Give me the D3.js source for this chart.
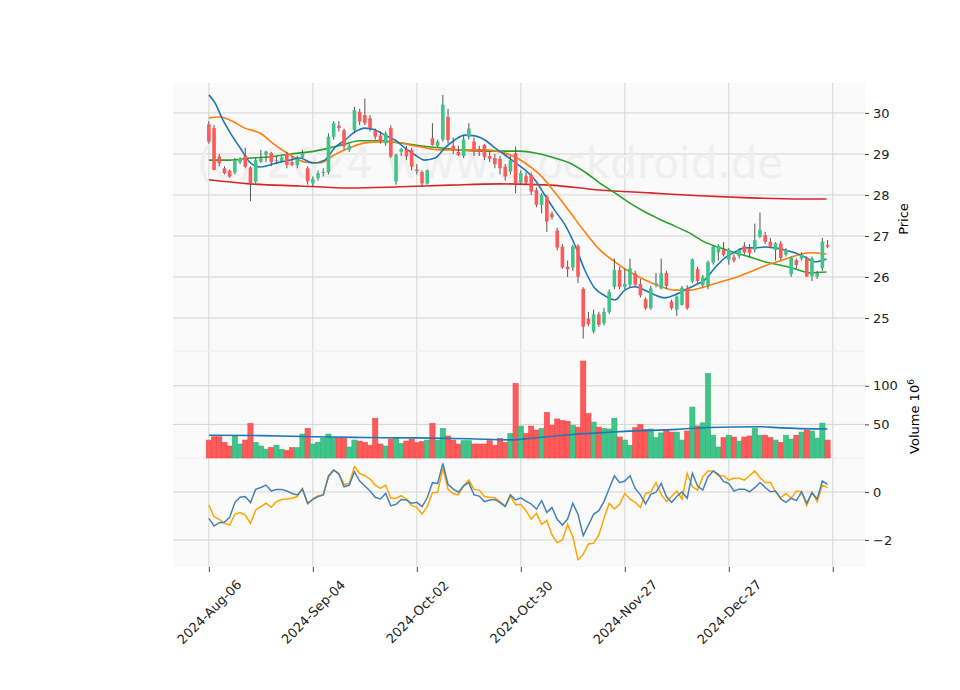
<!DOCTYPE html>
<html>
<head>
<meta charset="utf-8">
<script src="https://cdn.jsdelivr.net/npm/d3@7"></script>
<style>
  body { margin: 0; background: #fff; }
  text { font-family: "DejaVu Sans", sans-serif; }
</style>
</head>
<body>
<svg id="chart" width="960" height="690"></svg>
<script>
// candles: [open, high, low, close]
const ohlc = [
  [29.72,29.80,29.25,29.30],[29.63,29.70,28.60,28.61],[28.94,29.00,28.70,28.77],[28.65,28.70,28.50,28.53],
  [28.59,28.62,28.42,28.45],[28.55,28.90,28.50,28.85],[28.80,28.92,28.75,28.88],[28.96,29.15,28.65,28.69],
  [28.67,28.70,27.85,28.28],[28.32,28.90,28.28,28.85],[28.81,29.10,28.78,28.89],[28.98,29.08,28.80,29.06],
  [29.02,29.05,28.70,28.80],[28.83,28.95,28.75,28.85],[28.83,28.95,28.80,28.91],[29.00,29.05,28.65,28.73],
  [28.80,28.95,28.70,28.73],[28.73,28.95,28.65,28.88],[28.91,29.10,28.88,29.02],[28.65,28.70,28.25,28.33],
  [28.28,28.45,28.20,28.39],[28.41,28.60,28.35,28.53],[28.55,28.65,28.45,28.56],[28.55,29.50,28.50,29.42],
  [29.42,29.80,29.35,29.75],[29.69,29.80,29.55,29.63],[29.58,29.62,29.10,29.18],[29.10,29.25,29.05,29.20],
  [29.58,30.15,29.50,30.07],[30.03,30.10,29.70,29.79],[29.95,30.35,29.70,29.75],[29.87,29.95,29.55,29.63],
  [29.56,29.62,29.35,29.42],[29.45,29.55,29.25,29.30],[29.26,29.55,29.20,29.50],[29.63,29.70,28.90,28.94],
  [28.33,29.00,28.25,28.98],[29.05,29.15,28.95,29.12],[29.12,29.20,28.85,28.94],[29.10,29.15,28.60,28.69],
  [28.62,28.75,28.50,28.58],[28.56,28.60,28.20,28.28],[28.28,28.62,28.25,28.60],[29.38,29.75,29.20,29.22],
  [29.20,29.35,29.15,29.30],[29.35,30.44,29.30,30.20],[29.90,30.10,29.25,29.34],[29.20,29.40,29.00,29.10],
  [29.05,29.20,28.95,28.97],[28.95,29.45,28.90,29.35],[29.42,29.75,29.35,29.62],[29.30,29.40,28.95,29.05],
  [29.10,29.20,28.95,29.05],[29.22,29.25,28.85,28.93],[28.95,29.05,28.80,28.88],[28.90,29.00,28.65,28.75],
  [28.88,28.95,28.50,28.65],[28.69,28.75,28.35,28.45],[28.57,28.95,28.50,28.85],[29.02,29.18,28.04,28.28],
  [28.30,28.60,28.25,28.53],[28.46,28.55,28.25,28.30],[28.49,28.55,28.00,28.08],[28.12,28.18,27.70,27.76],
  [27.76,28.05,27.55,28.00],[27.96,28.00,27.10,27.35],[27.54,27.60,27.40,27.46],[27.13,27.20,26.65,26.72],
  [26.74,26.80,26.20,26.23],[26.25,26.40,26.00,26.19],[26.23,26.78,26.15,26.74],[26.76,26.80,25.85,26.01],
  [25.71,25.75,24.50,24.79],[24.98,25.15,24.80,24.85],[24.67,25.20,24.62,25.09],[25.09,25.15,24.78,24.83],
  [24.87,25.25,24.82,25.15],[25.15,25.70,25.10,25.64],[25.76,26.45,25.70,26.17],[26.17,26.25,25.70,25.76],
  [25.76,26.20,25.70,25.83],[25.81,26.45,25.75,26.21],[26.09,26.15,25.75,25.81],[25.83,25.95,25.50,25.55],
  [25.46,25.50,25.20,25.24],[25.24,25.78,25.20,25.72],[25.80,26.10,25.75,25.85],[25.72,26.45,25.70,26.09],
  [26.10,26.15,25.70,25.78],[25.40,25.45,25.20,25.24],[25.20,25.55,25.05,25.52],[25.32,25.78,25.30,25.74],
  [25.72,25.80,25.20,25.24],[25.89,26.45,25.85,26.43],[26.19,26.25,25.85,25.90],[25.80,26.05,25.75,25.99],
  [25.80,26.40,25.70,26.36],[26.35,26.78,26.30,26.74],[26.60,26.80,26.40,26.76],[26.66,26.85,26.50,26.54],
  [26.42,26.70,26.30,26.66],[26.48,26.55,26.35,26.40],[26.51,26.70,26.45,26.66],[26.76,26.85,26.55,26.60],
  [26.70,26.80,26.50,26.58],[26.66,27.30,26.60,26.90],[26.98,27.57,26.95,27.15],[27.02,27.10,26.80,26.86],
  [26.86,26.95,26.70,26.74],[26.66,26.85,26.40,26.82],[26.82,26.88,26.40,26.46],[26.54,26.70,26.50,26.66],
  [26.07,26.50,26.00,26.48],[26.41,26.45,26.20,26.29],[26.45,26.60,26.40,26.54],[26.46,26.50,26.00,26.01],
  [26.02,26.50,25.90,26.46],[26.01,26.15,25.95,26.09],[26.21,26.95,26.15,26.86],[26.78,26.90,26.70,26.74]
];

// volume in millions
const volume = [
  29.7,34,34,26.7,22,35,24.6,29.7,51.3,26.7,22,18,20,23,17.7,16.4,20,20,37.5,44.8,
  24.6,26.7,32,37.5,32,32,32,20.7,29.7,28.4,26.7,23,57.8,24.6,22,31,32.8,25.4,28.4,31,
  26.3,27.6,29.7,51.3,29.7,44.8,35,29.7,24.6,28.9,28.9,24.6,24.6,24.6,28.9,23,32,26.7,38.4,103,
  47.8,38.4,47.8,42.7,44.8,65.5,49,57,55,54,49,46.5,132,64,53,46.5,44.8,44,58,33.6,
  29.7,23,45.7,50,43.5,44,32.8,39,42.7,40,40,29.7,41.4,72.4,48,52,116,36,20.7,32.8,
  36,33.6,28.4,33.6,35,45,36,36,33,29.7,26.7,36,31,36,40,42.7,41.4,32.3,51.7,29.7
];

// lower panel series
const lineA = [
  -1.10,-1.42,-1.28,-1.26,-1.06,-0.44,-0.22,-0.19,-0.44,0.11,0.19,0.29,0.04,0.11,0.11,0.04,-0.06,-0.12,0.12,-0.47,
  -0.31,-0.19,-0.12,0.64,0.92,0.75,0.22,0.29,0.85,0.46,0.25,0.04,-0.22,-0.29,-0.06,-0.58,-0.51,-0.31,-0.33,-0.47,
  -0.43,-0.61,-0.24,0.39,0.36,1.19,0.32,0.12,-0.01,0.26,0.39,-0.12,-0.17,-0.40,-0.33,-0.31,-0.44,-0.61,-0.12,-0.33,
  -0.24,-0.38,-0.50,-0.71,-0.36,-0.85,-0.65,-1.14,-1.38,-1.13,-0.47,-0.93,-1.82,-1.38,-0.93,-0.78,-0.40,0.15,0.68,0.39,
  0.46,0.68,0.15,-0.12,-0.50,-0.10,-0.01,0.36,-0.19,-0.43,-0.19,0.01,-0.26,0.78,0.25,0.08,0.64,0.88,0.74,0.43,
  0.36,0.04,0.12,0.12,0.01,0.18,0.40,0.19,0.01,0.04,-0.29,-0.43,-0.26,-0.36,0.01,-0.47,-0.03,-0.29,0.46,0.32
];
const lineB = [
  -0.54,-1.03,-1.14,-1.31,-1.38,-0.93,-0.86,-0.96,-1.31,-0.75,-0.61,-0.47,-0.64,-0.40,-0.31,-0.29,-0.26,-0.19,0.15,-0.50,
  -0.29,-0.15,-0.12,0.68,0.92,0.78,0.32,0.36,1.06,0.78,0.68,0.54,0.29,0.15,0.29,-0.26,-0.26,-0.15,-0.29,-0.57,
  -0.64,-0.92,-0.61,-0.03,-0.01,0.99,0.11,-0.06,-0.12,0.26,0.50,0.11,0.08,-0.19,-0.22,-0.24,-0.40,-0.58,-0.15,-0.54,
  -0.51,-0.78,-1.14,-0.89,-1.35,-1.19,-1.79,-2.11,-2.00,-1.35,-1.86,-2.83,-2.60,-2.17,-2.14,-1.79,-1.10,-0.47,-0.71,-0.51,
  -0.06,-0.29,-0.43,-0.64,-0.06,0.01,0.39,-0.10,-0.40,-0.19,0.04,-0.29,0.78,0.22,0.08,0.64,0.88,0.88,0.68,0.68,
  0.50,0.57,0.57,0.50,0.68,0.88,0.60,0.40,0.40,0.01,-0.24,-0.06,-0.26,0.04,0.01,-0.57,-0.01,-0.40,0.29,0.18
];

// moving averages: [index, value]
const maBlue = [[0,30.44],[1.2,30.24],[2.5,29.88],[4,29.54],[6,29.15],[8,28.78],[9.8,28.68],[11.7,28.73],[13.7,28.80],
  [15.6,28.85],[17.5,28.90],[20,28.78],[22.3,28.85],[24.2,29.15],[26.2,29.34],[28.1,29.54],[30,29.63],[31.9,29.59],
  [33.8,29.46],[35.8,29.34],[37.7,29.15],[39.6,28.98],[41.5,28.85],[43.5,28.90],[45.4,29.15],[47.3,29.34],[49.2,29.46],
  [51.2,29.44],[53.1,29.34],[55,29.15],[56.9,28.98],[58.8,28.80],[60.8,28.61],[62.7,28.37],[64.6,28.00],[66.5,27.63],
  [68.5,27.27],[70.4,26.78],[72.3,26.17],[74.2,25.73],[76.2,25.54],[78.1,25.44],[80,25.68],[81.9,25.76],[83.8,25.68],
  [85.8,25.56],[87.7,25.49],[89.6,25.56],[91.5,25.68],[93.5,25.80],[95.4,25.93],[97.3,26.22],[99.2,26.46],[101.2,26.61],
  [103.1,26.71],[105,26.71],[106.9,26.73],[108.8,26.71],[110.8,26.66],[112.7,26.59],[114.6,26.49],[116.5,26.37],[118.8,26.44]];
const maOrange = [[0,29.88],[2.1,29.90],[4,29.83],[6.9,29.63],[9.8,29.51],[12.7,29.22],[15.6,28.98],[18.5,28.80],
  [21.3,28.78],[24.2,28.98],[27.1,29.15],[30,29.27],[32.9,29.29],[35.8,29.29],[38.7,29.22],[41.5,29.15],[44.4,29.10],
  [47.3,29.10],[50.2,29.10],[53.1,29.10],[56,29.05],[58.8,28.93],[60.8,28.78],[63.7,28.49],[66.5,28.07],[69.4,27.59],
  [72.3,27.10],[75.2,26.66],[78.1,26.37],[81,26.12],[83.8,25.93],[86.7,25.78],[89.6,25.68],[92.5,25.68],[95.4,25.76],
  [98.3,25.88],[101.2,25.98],[104,26.12],[106.9,26.27],[109.8,26.39],[112.7,26.51],[115.6,26.59],[118.8,26.56]];
const maGreen = [[0,28.85],[4,28.85],[8.1,28.90],[11.9,28.93],[15.6,29.00],[19.4,29.05],[23.3,29.15],[26.2,29.24],
  [29,29.32],[32.9,29.32],[36.7,29.27],[40.6,29.20],[44.4,29.15],[48.3,29.10],[52.1,29.07],[56,29.07],[59.8,29.07],
  [63.7,29.00],[66.5,28.90],[69.4,28.78],[72.3,28.56],[75.2,28.29],[78.1,28.05],[81,27.80],[83.8,27.59],[86.7,27.41],
  [89.6,27.24],[92.5,27.07],[95.4,26.85],[98.3,26.71],[101.2,26.59],[104,26.49],[106.9,26.37],[109.8,26.29],
  [112.7,26.20],[115.6,26.10],[118.8,26.12]];
const maRed = [[0,28.37],[7.9,28.27],[17.5,28.22],[27.1,28.17],[36.7,28.20],[46.3,28.24],[56,28.27],[65.6,28.24],
  [75.2,28.12],[84.8,28.05],[94.4,27.98],[104,27.93],[113.7,27.90],[118.8,27.90]];
const maVolume = [[0,36],[10,35.5],[20,34],[30,33],[40,32.5],[50,31.5],[58,30],[62,32],[70,37],[75,39],[80,41],
  [90,43.5],[96,46],[106,47],[110,45.5],[119,44]];

const tickIdx = [0, 20, 40, 60, 80, 100, 120];
const tickLabels = ["2024-Aug-06", "2024-Sep-04", "2024-Oct-02", "2024-Oct-30", "2024-Nov-27", "2024-Dec-27", ""];
const priceTicks = [25, 26, 27, 28, 29, 30];
const volTicks = [50, 100];
const lowTicks = [-2, 0];

const UP = "#3fc589", DOWN = "#ff5a5a";
const GRID = "#d4d4d4";
const left = 173, right = 865;
const P = { top: 83, bottom: 351 };
const V = { top: 351, bottom: 458 };
const L = { top: 458, bottom: 567 };

const svg = d3.select("#chart");
const x = d3.scaleLinear().domain([-6.9, 126.2]).range([left, right]);
const yP = d3.scaleLinear().domain([24.195, 30.73]).range([P.bottom, P.top]);
const yV = d3.scaleLinear().domain([6.5, 145]).range([V.bottom, V.top]);
const yL = d3.scaleLinear().domain([-3.13, 1.42]).range([L.bottom, L.top]);

// panel backgrounds
[P, V, L].forEach((p) => {
  svg.append("rect").attr("x", left).attr("y", p.top)
    .attr("width", right - left).attr("height", p.bottom - p.top)
    .attr("fill", "#fafafa");
});

// vertical grid
svg.append("g").selectAll("line").data(tickIdx).join("line")
  .attr("x1", (d) => x(d)).attr("x2", (d) => x(d))
  .attr("y1", P.top).attr("y2", L.bottom)
  .attr("stroke", GRID).attr("stroke-width", 1);

// horizontal grid + right axes
function rightAxis(scale, ticks, fmt) {
  svg.append("g").selectAll("line").data(ticks).join("line")
    .attr("x1", left).attr("x2", right)
    .attr("y1", (d) => scale(d)).attr("y2", (d) => scale(d))
    .attr("stroke", GRID);
  const ax = svg.append("g").attr("transform", `translate(${right},0)`)
    .call(d3.axisRight(scale).tickValues(ticks).tickFormat(fmt).tickSize(4).tickPadding(4));
  ax.select(".domain").remove();
  ax.selectAll("text").attr("font-size", 13).attr("fill", "#222");
  ax.selectAll("line").attr("stroke", "#444");
}
rightAxis(yP, priceTicks, d3.format("d"));
rightAxis(yV, volTicks, d3.format("d"));
rightAxis(yL, lowTicks, (d) => (d < 0 ? "\u2212" + Math.abs(d) : d));

// panel separators
[V.top, L.top].forEach((yy) => {
  svg.append("line").attr("x1", left).attr("x2", right).attr("y1", yy).attr("y2", yy)
    .attr("stroke", "#eeeeee");
});

// watermark
svg.append("text").attr("x", 490).attr("y", 178).attr("text-anchor", "middle")
  .attr("font-size", 42).attr("fill", "#efefef").text("(c) 2024 www.stockdroid.de");

// moving averages
const maLine = d3.line().x((d) => x(d[0])).y((d) => yP(d[1])).curve(d3.curveMonotoneX);
[[maRed, "#d62728"], [maGreen, "#2ca02c"], [maOrange, "#ff7f0e"], [maBlue, "#1f77b4"]].forEach(([data, c]) => {
  svg.append("path").datum(data).attr("d", maLine).attr("fill", "none")
    .attr("stroke", c).attr("stroke-width", 1.6);
});

// candles
const cw = 3.6;
const candle = svg.append("g").selectAll("g").data(ohlc).join("g");
candle.append("line")
  .attr("x1", (d, i) => x(i)).attr("x2", (d, i) => x(i))
  .attr("y1", (d) => yP(d[1])).attr("y2", (d) => yP(d[2]))
  .attr("stroke", "#555").attr("stroke-width", 1);
candle.append("rect")
  .attr("x", (d, i) => x(i) - cw / 2).attr("width", cw)
  .attr("y", (d) => yP(Math.max(d[0], d[3])))
  .attr("height", (d) => Math.max(1, Math.abs(yP(d[0]) - yP(d[3]))))
  .attr("fill", (d) => (d[3] >= d[0] ? UP : DOWN));

// volume
svg.append("g").selectAll("rect").data(volume).join("rect")
  .attr("x", (d, i) => x(i) - 2.6).attr("width", 5.2)
  .attr("y", (d) => yV(d)).attr("height", (d) => V.bottom - yV(d))
  .attr("fill", (d, i) => (ohlc[i][3] >= ohlc[i][0] ? UP : DOWN))
  .attr("stroke", (d, i) => (ohlc[i][3] >= ohlc[i][0] ? "#35b57a" : "#f04848"))
  .attr("stroke-width", 0.6);
svg.append("path").datum(maVolume)
  .attr("d", d3.line().x((d) => x(d[0])).y((d) => yV(d[1])).curve(d3.curveMonotoneX))
  .attr("fill", "none").attr("stroke", "#1f77b4").attr("stroke-width", 1.6);

// lower panel lines
const lowLine = d3.line().x((d, i) => x(i)).y((d) => yL(d));
svg.append("path").datum(lineB).attr("d", lowLine).attr("fill", "none")
  .attr("stroke", "#ffa500").attr("stroke-width", 1.5);
svg.append("path").datum(lineA).attr("d", lowLine).attr("fill", "none")
  .attr("stroke", "#4682b4").attr("stroke-width", 1.5);

// x axis
const xa = svg.append("g").attr("transform", `translate(0,${L.bottom})`)
  .call(d3.axisBottom(x).tickValues(tickIdx).tickFormat((d, i) => tickLabels[i]).tickSize(5));
xa.select(".domain").remove();
xa.selectAll("line").attr("stroke", "#444");
xa.selectAll("text").attr("font-size", 13).attr("fill", "#222")
  .attr("text-anchor", "middle").attr("y", 0).attr("dy", "0.35em")
  .attr("transform", "translate(0,45) rotate(-45)");

// y labels
svg.append("text").attr("transform", `translate(908,${(P.top + P.bottom) / 2 + 2}) rotate(-90)`)
  .attr("text-anchor", "middle").attr("font-size", 13).text("Price");
const vl = svg.append("text").attr("transform", `translate(919,${(V.top + V.bottom) / 2 + 12}) rotate(-90)`)
  .attr("text-anchor", "middle").attr("font-size", 13);
vl.append("tspan").text("Volume  10");
vl.append("tspan").attr("dy", -5).attr("font-size", 9).text("6");
</script>
</body>
</html>
